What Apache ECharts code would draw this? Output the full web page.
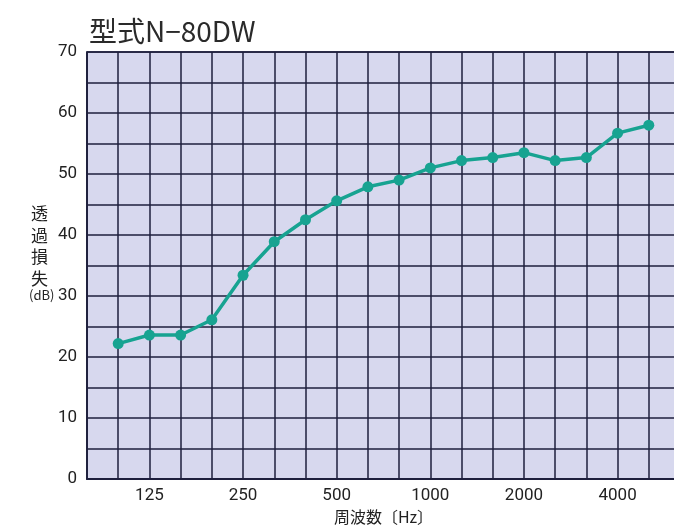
<!DOCTYPE html>
<html>
<head>
<meta charset="utf-8">
<script src="https://cdn.jsdelivr.net/npm/echarts@6/dist/echarts.min.js"></script>
<style>html,body{margin:0;padding:0;background:#fff;}#c{width:674px;height:527px;}</style>
</head>
<body>
<div id="c"></div>
<script>
const bands = ['80','100','125','160','200','250','315','400','500','630','800','1000','1250','1600','2000','2500','3150','4000','5000','6300'];
const shownLabels = ['125','250','500','1000','2000','4000'];
const lossValues = [null,22.2,23.6,23.6,26.1,33.4,38.9,42.5,45.6,47.9,49.0,51.0,52.2,52.7,53.5,52.2,52.7,56.7,58.0,null];
const yTicks = [0,10,20,30,40,50,60,70];

const chart = echarts.init(document.getElementById('c'));
const gridColor = '#1e1f3d';
chart.setOption({
  animation: false,
  title: {
    text: '型式N−80DW',
    left: 84, top: 12,
    textStyle: {fontFamily: 'Noto Sans CJK JP', fontSize: 28, fontWeight: 'normal', color: '#2a2a2a'}
  },
  graphic: [{
    type: 'text', left: 31, top: 203,
    style: {text: '透\n過\n損\n失', fontFamily: 'Noto Sans CJK JP', fontSize: 17, lineHeight: 21.5, fill: '#222', textAlign: 'center'}
  },{
    type: 'text', left: 29, top: 289,
    style: {text: '(dB)', fontFamily: 'Noto Sans CJK JP', fontSize: 13, fill: '#222'}
  }],
  grid: {left: 87, width: 593, top: 52, bottom: 48, outerBoundsMode: 'none', containLabel: false,
    show: true, backgroundColor: '#d7d8ee', borderColor: gridColor, borderWidth: 1.5},
  xAxis: {
    type: 'category', data: bands, boundaryGap: false,
    name: '周波数〔Hz〕', nameLocation: 'middle', nameGap: 28,
    nameTextStyle: {fontFamily: 'Noto Sans CJK JP', fontSize: 16, color: '#222'},
    axisLine: {lineStyle: {color: gridColor, width: 2}},
    axisTick: {show: false},
    axisLabel: {interval: 0, margin: 8, fontFamily: 'Roboto', fontSize: 17, color: '#222',
      formatter: v => shownLabels.includes(v) ? v : ''},
    splitLine: {show: true, interval: 0, lineStyle: {color: gridColor, width: 1.5}}
  },
  yAxis: {
    type: 'value', min: 0, max: 70, interval: 5,
    axisLine: {show: true, lineStyle: {color: gridColor, width: 1.5}},
    axisTick: {show: false},
    axisLabel: {margin: 10, fontFamily: 'Roboto', fontSize: 17, color: '#222',
      formatter: v => yTicks.includes(v) ? String(v) : ''},
    splitLine: {lineStyle: {color: gridColor, width: 1.5}}
  },
  series: [{
    type: 'line', data: lossValues,
    lineStyle: {color: '#17a391', width: 3.5},
    itemStyle: {color: '#17a391'},
    symbol: 'circle', symbolSize: 11
  }]
});
</script>
</body>
</html>
